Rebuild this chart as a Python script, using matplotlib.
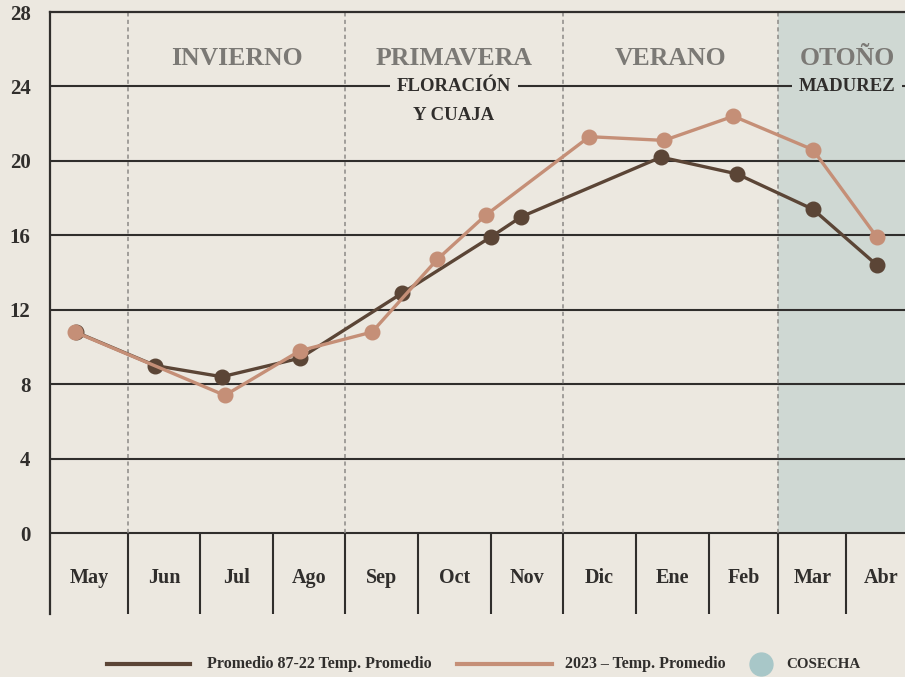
import numpy as np
import matplotlib
matplotlib.use('Agg')
import matplotlib.pyplot as plt
from matplotlib.lines import Line2D

# --- data -------------------------------------------------------------
months = ['May', 'Jun', 'Jul', 'Ago', 'Sep', 'Oct', 'Nov', 'Dic', 'Ene', 'Feb', 'Mar', 'Abr']

# position inside the season, in months from 1 May (month index + fraction)
avg_x = [0.33, 1.375, 2.30, 3.375, 4.785, 5.99, 6.42, 8.34, 9.40, 10.51, 11.44]
avg_temp = [10.8, 9.0, 8.4, 9.4, 12.9, 15.9, 17.0, 20.2, 19.3, 17.4, 14.4]

y2023_x = [0.32, 2.34, 3.375, 4.37, 5.26, 5.93, 7.36, 8.38, 9.35, 10.51, 11.44]
y2023_temp = [10.8, 7.4, 9.8, 10.8, 14.7, 17.1, 21.3, 21.1, 22.4, 20.6, 15.9]

seasons = ['INVIERNO', 'PRIMAVERA', 'VERANO', 'OTOÑO']
season_start = [1, 4, 7, 10]
season_end = [4, 7, 10, 12]
phase_top = ['', 'FLORACIÓN', '', 'MADUREZ']
phase_bottom = ['', 'Y CUAJA', '', '']
harvest = ['Mar', 'Abr']

y_ticks = [0, 4, 8, 12, 16, 20, 24, 28]

# --- style ------------------------------------------------------------
BG = '#ece8e0'
SHADE = '#cfd8d3'
DARK = '#302e2c'
BROWN = '#5b4536'
TAN = '#c58f77'
GREY = '#7b7975'
TEAL = '#a8c7c8'
FONT = 'Liberation Serif'

# column widths of the month table (May is a bit wider, Abr is cut at the edge)
col_w = [1.08, 0.99, 1.01, 0.99, 1.01, 1.01, 0.99, 1.01, 1.01, 0.95, 0.94, 0.96]
edges = np.concatenate([[0], np.cumsum(col_w)])
x_right = edges[11] + 0.81
y_bottom = -4.35


def to_axis(x):
    return np.interp(x, np.arange(len(edges)), edges)


plt.rcParams['font.family'] = [FONT, 'DejaVu Serif']
fig = plt.figure(figsize=(9.05, 6.77), dpi=100, facecolor=BG)
ax = fig.add_axes([50 / 905, 63 / 677, 855 / 905, 602 / 677])
ax.set_facecolor(BG)
ax.set_xlim(0, x_right)
ax.set_ylim(y_bottom, 28)

# harvest shading
h0 = to_axis(months.index(harvest[0]))
ax.fill_between([h0, x_right + 1], 0, 28, color=SHADE, lw=0, zorder=0)

# horizontal grid
for y in y_ticks[:-1]:
    ax.axhline(y, color=DARK, lw=1.5, zorder=1)

# season separators (dashed) and month table separators (solid)
for s in season_start:
    ax.vlines(to_axis(s), 0, 28, color='#8c8a87', lw=1.1,
              linestyles=(0, (2.7, 2.2)), zorder=1)
ax.vlines(edges[1:12], y_bottom, 0, color=DARK, lw=1.5, zorder=1)

# month labels
for i, m in enumerate(months):
    ax.text((edges[i] + edges[i + 1]) / 2, -2.4, m, ha='center', va='center',
            fontsize=14.5, fontweight='bold', color=DARK)

# season and phase labels
for name, s0, s1, p1, p2 in zip(seasons, season_start, season_end,
                                phase_top, phase_bottom):
    xc = (to_axis(s0) + to_axis(s1)) / 2
    ax.text(xc, 25.5, name, ha='center', va='center', fontsize=18.5,
            fontweight='bold', color=GREY, zorder=3)
    bg = SHADE if s0 >= months.index(harvest[0]) else BG
    if p1:
        ax.text(xc, 24, p1, ha='center', va='center', fontsize=13.5,
                fontweight='bold', color=DARK, zorder=3,
                bbox=dict(boxstyle='square,pad=0.35', fc=bg, ec='none'))
    if p2:
        ax.text(xc, 22.45, p2, ha='center', va='center', fontsize=13.5,
                fontweight='bold', color=DARK, zorder=3)

# series
ax.plot(to_axis(avg_x), avg_temp, color=BROWN, lw=2.4, marker='o', ms=10.5,
        zorder=4, solid_capstyle='round')
ax.plot(to_axis(y2023_x), y2023_temp, color=TAN, lw=2.4, marker='o', ms=10.5,
        zorder=5, solid_capstyle='round')

# axes styling
for side in ['right', 'bottom']:
    ax.spines[side].set_visible(False)
for side in ['left', 'top']:
    ax.spines[side].set_color(DARK)
    ax.spines[side].set_linewidth(1.6)
ax.set_xticks([])
ax.set_yticks(y_ticks)
ax.tick_params(axis='y', length=0, pad=14, labelsize=15, labelcolor=DARK)
for lab in ax.get_yticklabels():
    lab.set_fontweight('bold')

# legend drawn along the bottom
ly = 13 / 677
fig.add_artist(Line2D([107 / 905, 190 / 905], [ly, ly], color=BROWN, lw=3,
                      transform=fig.transFigure))
fig.text(207 / 905, ly, 'Promedio 87-22 Temp. Promedio', ha='left', va='center',
         fontsize=11.5, fontweight='bold', color=DARK)
fig.add_artist(Line2D([457 / 905, 552 / 905], [ly, ly], color=TAN, lw=3,
                      transform=fig.transFigure))
fig.text(565 / 905, ly, '2023 – Temp. Promedio', ha='left', va='center',
         fontsize=11.5, fontweight='bold', color=DARK)
fig.add_artist(Line2D([761 / 905], [ly], color=TEAL, lw=0, marker='o', ms=16.5,
                      transform=fig.transFigure))
fig.text(786 / 905, ly, 'COSECHA', ha='left', va='center',
         fontsize=10.8, fontweight='bold', color=DARK)

fig.savefig('out.png', dpi=100, facecolor=BG)
